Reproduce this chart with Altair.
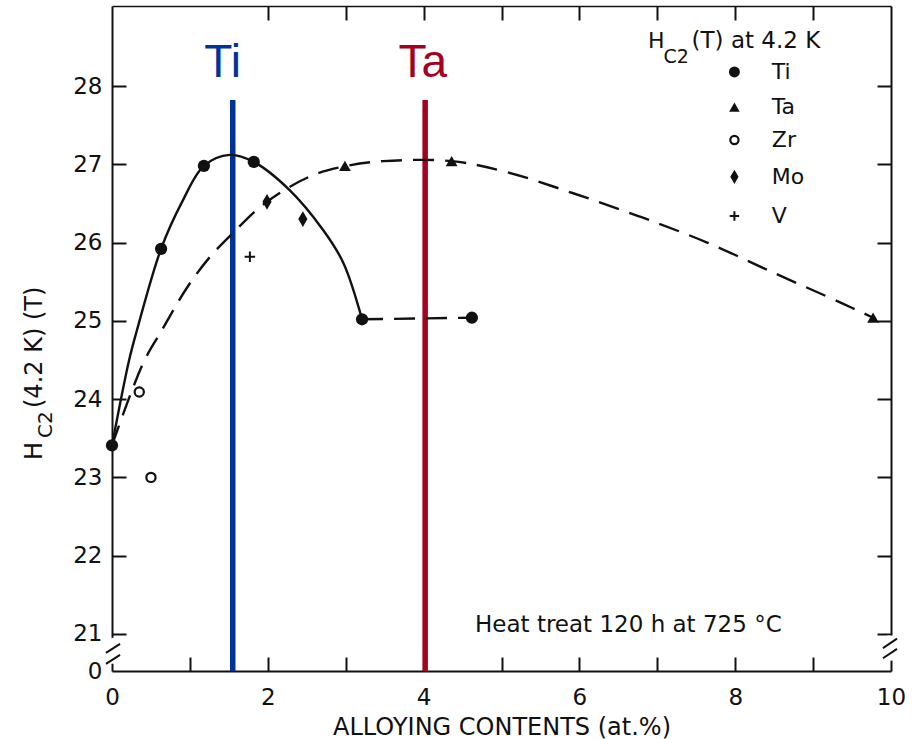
import altair as alt
import pandas as pd

# ---------------- data (alloying content in at.%, Hc2 in tesla) ----------------
ti_x = [0.0, 0.63, 1.18, 1.82, 3.21, 4.62]
ti_y = [23.41, 25.92, 26.98, 27.03, 25.02, 25.04]
ta_x = [2.99, 4.36, 9.77]
ta_y = [26.98, 27.04, 25.04]
zr_x = [0.35, 0.50]
zr_y = [24.09, 23.00]
mo_x = [1.99, 2.45]
mo_y = [26.52, 26.30]
v_x = [1.77]
v_y = [25.82]

# guide curves drawn through the measurements
ti_curve_x = [0.0, 0.22, 0.32, 0.63, 0.90, 1.18, 1.51, 1.82, 2.28, 2.71, 2.97, 3.21]
ti_curve_y = [23.41, 24.50, 24.88, 25.92, 26.52, 26.98, 27.12, 27.03, 26.67, 26.16, 25.74, 25.02]
ti_tail_x = [3.21, 4.62]
ti_tail_y = [25.02, 25.04]
ta_curve_x = [0.0, 0.40, 0.64, 0.96, 1.26, 1.55, 1.96, 2.53, 2.97, 3.48, 4.36,
              5.07, 5.92, 6.78, 7.64, 8.48, 9.36, 9.77]
ta_curve_y = [23.41, 24.46, 24.88, 25.42, 25.82, 26.12, 26.50, 26.84, 26.97, 27.04, 27.04,
              26.90, 26.63, 26.33, 26.00, 25.62, 25.23, 25.04]

# highlighted compositions
mark_elem = ["Ti", "Ta"]
mark_x = [1.55, 4.02]

# legend entries
legend_names = ["Ti", "Ta", "Zr", "Mo", "V"]

x_ticks_major = [0, 2, 4, 6, 8, 10]
x_ticks_minor = [1, 2, 3, 4, 5, 6, 7, 8, 9]
x_ticks_top = [2, 3, 4, 5, 6, 7, 8, 9]
y_ticks = [21, 22, 23, 24, 25, 26, 27, 28]

# ---------------- layout / style ----------------
W, H = 779, 665
X_MIN, X_MAX = 0.0, 10.0
Y_MIN, Y_MAX = 20.527, 29.022
INK = "#111111"
BLUE = "#003399"
RED = "#A50021"
FONT = "DejaVu Sans"
SANS = "Liberation Sans"
DIAMOND = "M0,-1L0.58,0L0,1L-0.58,0Z"
PLUS = "M-1,0L1,0M0,-1L0,1"

xscale = alt.Scale(domain=[X_MIN, X_MAX], nice=False, zero=False)
yscale = alt.Scale(domain=[Y_MIN, Y_MAX], nice=False, zero=False)


def frame(xs, ys):
    return pd.DataFrame({"x": xs, "y": ys})


def enc(ax=None, ay=None):
    return dict(
        x=alt.X("x:Q", scale=xscale, axis=ax),
        y=alt.Y("y:Q", scale=yscale, axis=ay),
    )


def marker(df, kind, big=True):
    k = 1.0 if big else 0.8
    c = alt.Chart(df)
    if kind == "Ti":
        m = c.mark_point(shape="circle", filled=True, size=150 * k, color=INK, opacity=1)
    elif kind == "Ta":
        m = c.mark_point(shape="triangle-up", filled=True, size=140 * k, color=INK, opacity=1)
    elif kind == "Zr":
        m = c.mark_point(shape="circle", filled=True, fill="white", stroke=INK,
                         strokeWidth=2.2, size=85 * k, opacity=1)
    elif kind == "Mo":
        m = c.mark_point(shape=DIAMOND, filled=True, size=250 * k, color=INK, opacity=1)
    else:
        m = c.mark_point(shape=PLUS, filled=False, size=110 * k, stroke=INK,
                         strokeWidth=2, opacity=1)
    return m.encode(**enc())


# ---------------- axes (bottom/left labels, inward ticks on all four sides) ----------------
dummy = frame([X_MIN], [Y_MIN])
axis_main = alt.Chart(dummy).mark_point(opacity=0).encode(
    x=alt.X("x:Q", scale=xscale, axis=alt.Axis(
        orient="bottom", values=x_ticks_major, ticks=False, tickSize=0, domain=True,
        domainColor=INK, domainWidth=2, grid=False, labelFontSize=23, labelFont=FONT,
        labelColor=INK, labelPadding=15, labelOverlap=False, labelFlush=False,
        title="ALLOYING CONTENTS (at.%)", titleFont=FONT, titleFontSize=24,
        titleFontWeight="normal", titleColor=INK, titleBaseline="alphabetic",
        titleY=63)),
    y=alt.Y("y:Q", scale=yscale, axis=alt.Axis(
        orient="left", values=[Y_MIN] + y_ticks, ticks=False, tickSize=0, domain=True,
        domainColor=INK, domainWidth=2, grid=False, labelFontSize=23, labelFont=FONT,
        labelColor=INK, labelPadding=10, labelOverlap=False, labelFlush=False,
        labelExpr="datum.value < 20.9 ? '0' : datum.label", title=None)),
)
axis_in_low = alt.Chart(dummy).mark_point(opacity=0).encode(
    x=alt.X("x:Q", scale=xscale, axis=alt.Axis(
        orient="top", offset=-H, values=x_ticks_minor, labels=False, domain=False,
        ticks=True, tickSize=14, tickWidth=2, tickColor=INK, grid=False, title=None)),
    y=alt.Y("y:Q", scale=yscale, axis=alt.Axis(
        orient="right", offset=-W, values=y_ticks, labels=False, domain=False,
        ticks=True, tickSize=14, tickWidth=2, tickColor=INK, grid=False, title=None)),
)
axis_in_high = alt.Chart(dummy).mark_point(opacity=0).encode(
    x=alt.X("x:Q", scale=xscale, axis=alt.Axis(
        orient="bottom", offset=-H, values=x_ticks_top, labels=False, domain=True,
        domainColor=INK, domainWidth=1.6, ticks=True, tickSize=14, tickWidth=2,
        tickColor=INK, grid=False, title=None)),
    y=alt.Y("y:Q", scale=yscale, axis=alt.Axis(
        orient="left", offset=-W, values=y_ticks, labels=False, domain=True,
        domainColor=INK, domainWidth=2, ticks=True, tickSize=14, tickWidth=2,
        tickColor=INK, grid=False, title=None)),
)

# axis breaks: gap in the vertical frame lines plus two slanted strokes
gaps = pd.DataFrame({"x": [-0.05, 9.95], "x2": [0.05, 10.05],
                     "y": [20.62, 20.66], "y2": [20.95, 20.98]})
gap_layer = alt.Chart(gaps).mark_rect(color="white").encode(
    x=alt.X("x:Q", scale=xscale, axis=None), x2="x2:Q",
    y=alt.Y("y:Q", scale=yscale, axis=None), y2="y2:Q")
strokes = pd.DataFrame({
    "x": [-0.077, -0.077, 9.897, 9.897],
    "x2": [0.103, 0.103, 10.077, 10.077],
    "y": [20.758, 20.617, 20.82, 20.69],
    "y2": [20.873, 20.732, 20.94, 20.81],
})
break_layer = alt.Chart(strokes).mark_rule(color=INK, strokeWidth=2).encode(
    x=alt.X("x:Q", scale=xscale, axis=None), x2="x2:Q",
    y=alt.Y("y:Q", scale=yscale, axis=None), y2="y2:Q")

# ---------------- curves ----------------
ti_line = alt.Chart(frame(ti_curve_x, ti_curve_y)).mark_line(
    color=INK, strokeWidth=2.4, interpolate="catmull-rom").encode(**enc())
ta_line = alt.Chart(frame(ta_curve_x, ta_curve_y)).mark_line(
    color=INK, strokeWidth=2.4, strokeDash=[21, 11], interpolate="catmull-rom").encode(**enc())
ti_tail = alt.Chart(frame(ti_tail_x, ti_tail_y)).mark_line(
    color=INK, strokeWidth=2.4, strokeDash=[21, 11]).encode(**enc())

# ---------------- highlighted compositions ----------------
hl = pd.DataFrame({"el": mark_elem, "x": mark_x, "y": [Y_MIN, Y_MIN], "y2": [27.82, 27.82],
                   "lx": [1.42, 3.99], "ly": [28.115, 28.115]})
hl_color = alt.Color("el:N", scale=alt.Scale(domain=mark_elem, range=[BLUE, RED]), legend=None)
hl_rules = alt.Chart(hl).mark_rule(strokeWidth=5.5).encode(
    x=alt.X("x:Q", scale=xscale, axis=None),
    y=alt.Y("y:Q", scale=yscale, axis=None), y2="y2:Q", color=hl_color)
hl_text = alt.Chart(hl).mark_text(font=SANS, fontSize=46, align="center",
                                  baseline="alphabetic").encode(
    x=alt.X("lx:Q", scale=xscale, axis=None),
    y=alt.Y("ly:Q", scale=yscale, axis=None), text="el:N", color=hl_color)

# ---------------- data markers ----------------
pts = [
    marker(frame(ti_x, ti_y), "Ti"),
    marker(frame(ta_x, ta_y), "Ta"),
    marker(frame(zr_x, zr_y), "Zr"),
    marker(frame(mo_x, mo_y), "Mo"),
    marker(frame(v_x, v_y), "V"),
]

# ---------------- legend ----------------
LEG_X, LEG_TX = 7.99, 8.47
leg_y = [28.18, 27.73, 27.31, 26.84, 26.34]
leg_marks = [marker(frame([LEG_X], [yy]), nm, big=False) for nm, yy in zip(legend_names, leg_y)]
leg_text = alt.Chart(pd.DataFrame({"x": [LEG_TX] * 5, "y": leg_y, "t": legend_names})).mark_text(
    font=FONT, fontSize=22, align="left", baseline="middle", color=INK).encode(
    x=alt.X("x:Q", scale=xscale, axis=None), y=alt.Y("y:Q", scale=yscale, axis=None), text="t:N")


def note(txt, x, y, size, align="left"):
    return alt.Chart(pd.DataFrame({"x": [x], "y": [y], "t": [txt]})).mark_text(
        font=FONT, fontSize=size, align=align, baseline="alphabetic", color=INK).encode(
        x=alt.X("x:Q", scale=xscale, axis=None), y=alt.Y("y:Q", scale=yscale, axis=None),
        text="t:N")


leg_title = [
    note("H", 6.88, 28.485, 22),
    note("C2", 7.08, 28.294, 19),
    note("(T) at 4.2 K", 7.44, 28.485, 23),
]
heat = note("Heat treat 120 h at 725 °C", 4.66, 21.03, 23)


# ---------------- y-axis title with subscript ----------------
def vtitle(txt, px, py, size):
    return alt.Chart(pd.DataFrame({"t": [txt]})).mark_text(
        font=FONT, fontSize=size, angle=270, align="left", baseline="alphabetic",
        color=INK).encode(x=alt.value(px), y=alt.value(py), text="t:N")


ytitle = [
    vtitle("H", -70, 454, 24),
    vtitle("C2", -60, 432, 20),
    vtitle("(4.2 K) (T)", -70, 402, 24),
]

chart = alt.layer(
    axis_main, axis_in_low, axis_in_high,
    gap_layer, break_layer,
    hl_rules, hl_text,
    ti_line, ta_line, ti_tail,
    *pts, *leg_marks, leg_text, *leg_title, heat, *ytitle,
).resolve_axis(x="independent", y="independent").properties(
    width=W, height=H,
    autosize=alt.AutoSizeParams(type="none"),
    padding={"left": 112, "top": 6, "right": 21, "bottom": 68},
    background="white",
).configure_view(stroke=None)

chart.save("out.html", embed_options={"renderer": "svg", "actions": False})
